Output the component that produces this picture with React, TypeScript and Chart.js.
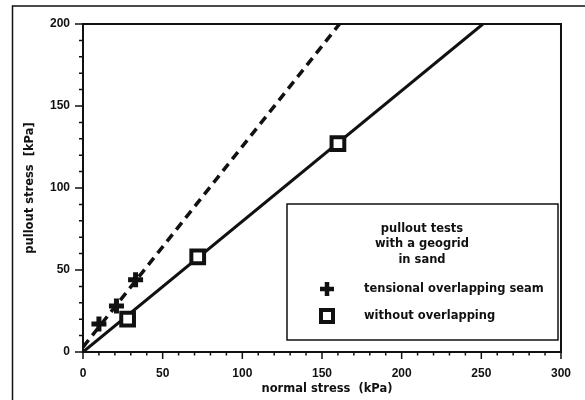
import React, { useEffect, useRef } from "react";
import { Chart, registerables } from "chart.js";

Chart.register(...registerables);

// ---- data ----
const tensionalX = [10, 21, 33];
const tensionalY = [17, 28, 44];
const withoutX = [28, 72, 160];
const withoutY = [20, 58, 127];
const tensionalFitX = [0, 161];
const tensionalFitY = [3, 200];
const withoutFitX = [0, 251];
const withoutFitY = [0, 200];
const xTicks = [0, 50, 100, 150, 200, 250, 300];
const yTicks = [0, 50, 100, 150, 200];
const xTitle = "normal stress  (kPa)";
const yTitle = "pullout stress  [kPa]";
const legendTitle = ["pullout tests", "with a geogrid", "in sand"];
const seriesNames = ["tensional overlapping seam", "without overlapping"];

const pts = (xs: number[], ys: number[]) => xs.map((x, i) => ({ x, y: ys[i] }));

const TEXT_FONT = "bold 11.5px 'DejaVu Sans'";

const decor = {
  id: "decor",
  beforeDraw(chart: any) {
    const ctx = chart.ctx;
    ctx.save();
    ctx.fillStyle = "#fff";
    ctx.fillRect(0, 0, chart.width, chart.height);
    ctx.strokeStyle = "#111";
    ctx.lineWidth = 1.5;
    ctx.beginPath();
    ctx.moveTo(12.5, 400);
    ctx.lineTo(12.5, 6);
    ctx.lineTo(585, 6);
    ctx.stroke();
    ctx.restore();
  },
  afterDraw(chart: any) {
    const ctx = chart.ctx;
    const { left, right, top, bottom } = chart.chartArea;
    const xs = chart.scales.x;
    const ys = chart.scales.y;
    ctx.save();
    ctx.strokeStyle = "#111";
    ctx.lineWidth = 2;
    ctx.beginPath();
    ctx.moveTo(left - 1, top);
    ctx.lineTo(right, top);
    ctx.lineTo(right, bottom + 1);
    ctx.stroke();
    ctx.lineWidth = 1.5;
    ctx.beginPath();
    for (let v = 0; v <= 300; v += 10) {
      const px = xs.getPixelForValue(v);
      const len = v % 50 === 0 ? 7 : 3.5;
      ctx.moveTo(px, bottom);
      ctx.lineTo(px, bottom + len);
    }
    for (let v = 0; v <= 200; v += 10) {
      const py = ys.getPixelForValue(v);
      const len = v % 50 === 0 ? 8 : 4;
      ctx.moveTo(left, py);
      ctx.lineTo(left - len, py);
    }
    ctx.stroke();

    ctx.fillStyle = "#111";
    ctx.font = TEXT_FONT;
    ctx.textAlign = "center";
    ctx.textBaseline = "middle";
    ctx.fillText(xTitle, 327, 389);
    ctx.save();
    ctx.translate(30, 188);
    ctx.rotate(-Math.PI / 2);
    ctx.fillText(yTitle, 0, 0);
    ctx.restore();

    const bx = 287, by = 204, bw = 271, bh = 136;
    ctx.fillStyle = "#fff";
    ctx.fillRect(bx, by, bw, bh);
    ctx.strokeStyle = "#111";
    ctx.lineWidth = 1.5;
    ctx.strokeRect(bx, by, bw, bh);
    ctx.fillStyle = "#111";
    ctx.font = TEXT_FONT;
    ctx.textAlign = "center";
    legendTitle.forEach((t, i) => ctx.fillText(t, 422, 229 + i * 15.5));
    ctx.textAlign = "left";
    ctx.fillText(seriesNames[0], 364, 289);
    ctx.fillText(seriesNames[1], 364, 316);
    ctx.lineWidth = 4.5;
    ctx.beginPath();
    ctx.moveTo(320, 289);
    ctx.lineTo(334, 289);
    ctx.moveTo(327, 282);
    ctx.lineTo(327, 296);
    ctx.stroke();
    ctx.lineWidth = 4;
    ctx.strokeRect(321, 310, 12, 12);
    ctx.restore();
  },
};

export default function App() {
  const ref = useRef<HTMLCanvasElement>(null);
  useEffect(() => {
    if (!ref.current) return;
    const chart = new Chart(ref.current, {
      type: "scatter",
      data: {
        datasets: [
          {
            data: pts(tensionalX, tensionalY),
            pointStyle: "cross",
            pointRadius: 7.5,
            borderWidth: 5,
            borderColor: "#111",
            backgroundColor: "#111",
          },
          {
            data: pts(withoutX, withoutY),
            pointStyle: "rect",
            pointRadius: 9,
            borderWidth: 4,
            borderColor: "#111",
            backgroundColor: "#fff",
          },
          {
            data: pts(tensionalFitX, tensionalFitY),
            showLine: true,
            borderDash: [9, 6],
            borderWidth: 3.5,
            borderColor: "#111",
            pointRadius: 0,
          },
          {
            data: pts(withoutFitX, withoutFitY),
            showLine: true,
            borderWidth: 3,
            borderColor: "#111",
            pointRadius: 0,
          },
        ],
      },
      options: {
        animation: false,
        responsive: false,
        layout: { padding: { top: 24, right: 17, left: 0, bottom: 0 } },
        plugins: { legend: { display: false }, tooltip: { enabled: false } },
        scales: {
          x: {
            type: "linear",
            min: 0,
            max: 300,
            afterFit: (s: any) => { s.height = 48; },
            afterBuildTicks: (s: any) => { s.ticks = xTicks.map((v) => ({ value: v })); },
            grid: { display: false, drawTicks: false },
            border: { display: true, color: "#111", width: 2 },
            ticks: {
              padding: 14,
              color: "#111",
              font: { family: "'Liberation Sans'", weight: "bold", size: 12 },
              maxRotation: 0,
              autoSkip: false,
            },
          },
          y: {
            type: "linear",
            min: 0,
            max: 200,
            afterFit: (s: any) => { s.width = 83; },
            afterBuildTicks: (s: any) => { s.ticks = yTicks.map((v) => ({ value: v })); },
            grid: { display: false, drawTicks: false },
            border: { display: true, color: "#111", width: 2 },
            ticks: {
              padding: 13,
              color: "#111",
              font: { family: "'Liberation Sans'", weight: "bold", size: 12 },
              autoSkip: false,
            },
          },
        },
      },
      plugins: [decor],
    });
    return () => chart.destroy();
  }, []);
  return (
    <div style={{ position: "absolute", left: 0, top: 0, width: 585, height: 400 }}>
      <canvas ref={ref} width={585} height={400} style={{ display: "block" }} />
    </div>
  );
}
